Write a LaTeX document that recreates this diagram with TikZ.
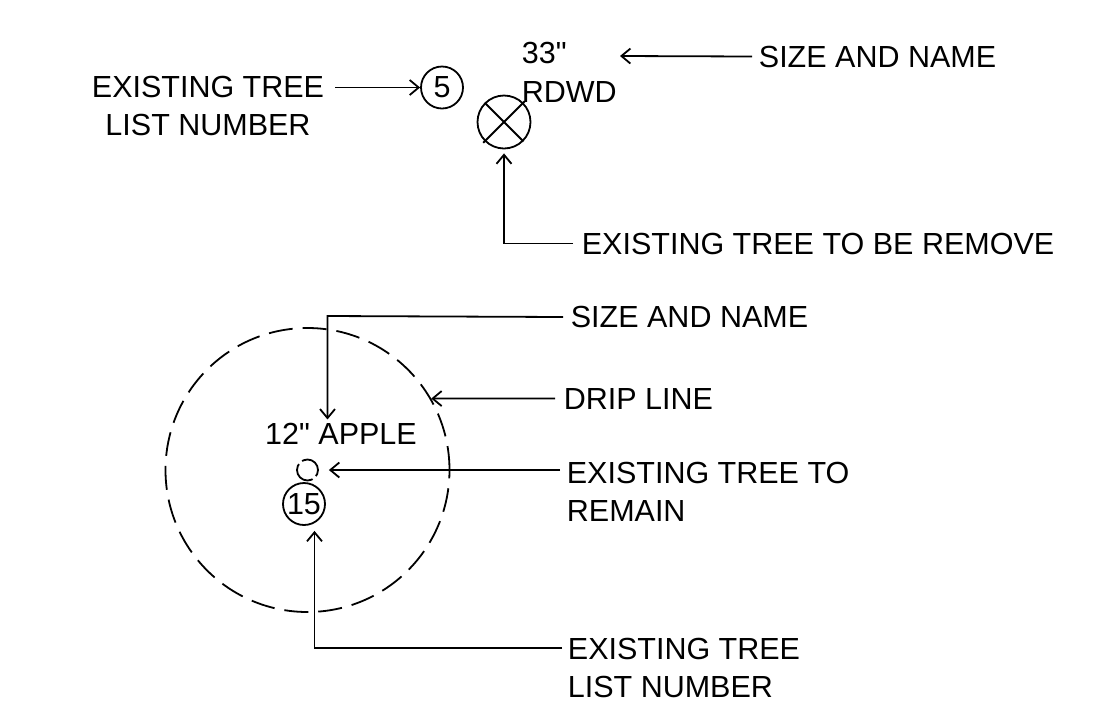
\documentclass[tikz,border=0pt]{standalone}
\usepackage{fontspec}
\setmainfont{Liberation Sans}[Ligatures=TeXOff]
\usetikzlibrary{arrows.meta}

\begin{document}
\begin{tikzpicture}[x=1pt,y=-1pt,line width=1.8pt]
            \tikzstyle{txt}=[inner sep=0pt,font=\fontsize{30.5}{38.5}\selectfont]
            \tikzstyle{lbl}=[txt,anchor=base west,align=left]
            \tikzstyle{lead}=[-{Straight Barb[length=9pt,width=15pt]}]
            \tikzstyle{bubble}=[txt,draw,circle,minimum size=42pt]
            \useasboundingbox (0,0) rectangle (1106,716);
            \node[txt,anchor=base east,align=center] (tl) at (325,135.5) {EXISTING TREE\\LIST NUMBER};
            \node[bubble] (b5) at (442,87.5) {5};
            \node[draw,circle,minimum size=53pt] (xt) at (504,122) {};
            \draw[shorten <=-2pt,shorten >=-2pt] (xt.135) -- (xt.-45) (xt.45) -- (xt.-135);
            \node[lbl] (sz1) at (521,102) {33"\\RDWD};
            \node[lbl] (sn1) at (758,67) {SIZE AND NAME};
            \coordinate (sn1tip) at (620,56);
            \node[lbl] (rm) at (581,254) {EXISTING TREE TO BE REMOVE};
            \draw[lead] ([xshift=10pt]b5 -| tl.east) -- (b5);
            \draw[lead] ([xshift=-6pt]sn1.west) -- (sn1tip);
            \draw[lead] ([xshift=-8pt]rm.west) -| ([yshift=-4pt]xt.south);
            \node[draw,circle,dash pattern=on 24pt off 10pt,minimum size=284pt] (drip) at (307.5,470) {};
            \node[txt] (ap) at (341,434) {12" APPLE};
            \node[draw,circle,dash pattern=on 22pt off 4.5pt on 28pt off 4.5pt,minimum size=21pt] (sc) at (307.5,470) {};
            \node[bubble] (c15) at (304,504) {15};
            \node[lbl] (sn2) at (570,327.5) {SIZE AND NAME};
            \node[lbl] (dr) at (563,409) {DRIP LINE};
            \node[lbl] (rt) at (566,521.5) {EXISTING TREE TO\\REMAIN};
            \node[lbl] (ln) at (567,697.5) {EXISTING TREE\\LIST NUMBER};
            \coordinate (k1) at (327.5,316);
            \coordinate (k2) at (314.5,648);
            \draw[lead,shorten >=3pt] ([xshift=-7pt]sn2.west) -- (k1) -- (k1 |- ap.north);
            \draw[lead] ([xshift=-8pt]dr.west) -- (drip.30.5);
            \draw[lead,shorten >=10pt] ([xshift=-6pt]sc -| rt.west) -- (sc.east);
            \draw[lead,shorten >=5pt] ([xshift=-5pt]k2 -| ln.west) -- (k2) -- (k2 |- c15.south);
        \end{tikzpicture}
\end{document}
